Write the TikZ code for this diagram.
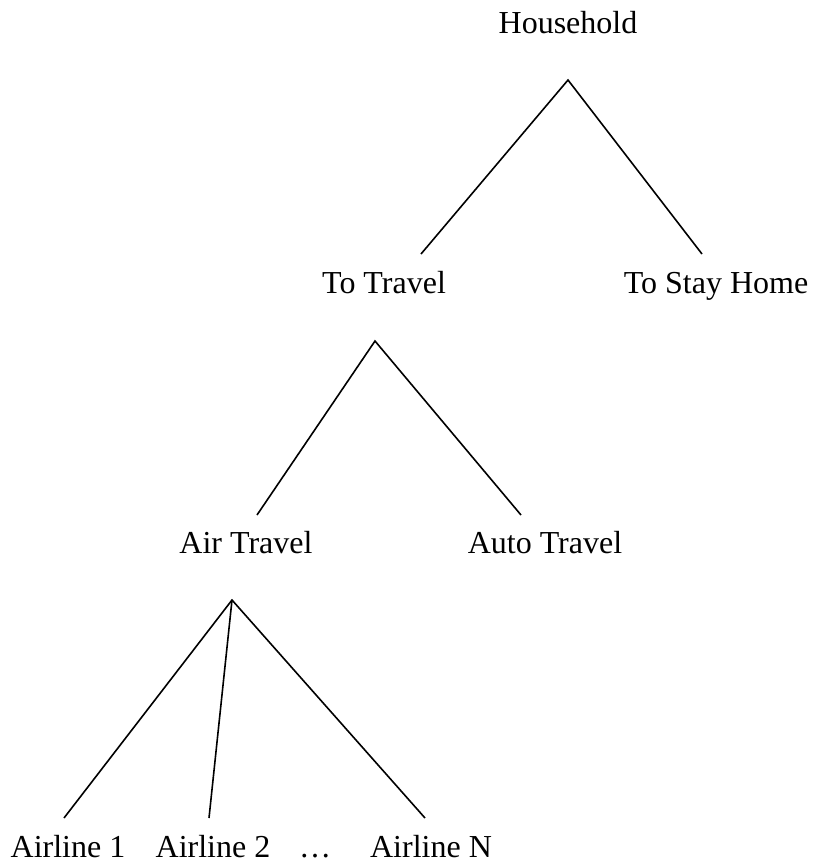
\documentclass[tikz,border=0pt]{standalone}
\usepackage{fontspec}
\setmainfont{Liberation Serif}
\begin{document}
\begin{tikzpicture}[x=1pt, y=-1pt, line width=1.6pt,
    lbl/.style={anchor=base, inner sep=0pt, font=\fontsize{32}{38}\selectfont}]
    \useasboundingbox (0, 0) rectangle (827, 865);

    % Nodes
    \node[lbl] at (568, 33) (H) {Household};
    \node[lbl] at (384, 293) (T) {To Travel};
    \node[lbl] at (716, 293) (S) {To Stay Home};
    \node[lbl] at (246, 553) (A) {Air Travel};
    \node[lbl] at (545, 553) (C) {Auto Travel};
    \node[lbl] at (68, 857) (L1) {Airline 1};
    \node[lbl] at (213, 857) (L2) {Airline 2};
    \node[lbl] at (315, 857) (LD) {\dots};
    \node[lbl] at (431, 857) (LN) {Airline N};

    % Branch points and line ends
    \coordinate (H0) at (568, 80);
    \coordinate (T1) at (421, 254);
    \coordinate (S1) at (702, 254);
    \coordinate (T0) at (375, 341);
    \coordinate (A1) at (257, 515);
    \coordinate (C1) at (521, 515);
    \coordinate (A0) at (232, 600);
    \coordinate (L11) at (64, 818);
    \coordinate (L21) at (209, 818);
    \coordinate (LN1) at (425, 818);

    % Lines
    \draw (T1) -- (H0) -- (S1);
    \draw (A1) -- (T0) -- (C1);
    \draw (L11) -- (A0) -- (LN1);
    \draw (A0) -- (L21);
\end{tikzpicture}
\end{document}
